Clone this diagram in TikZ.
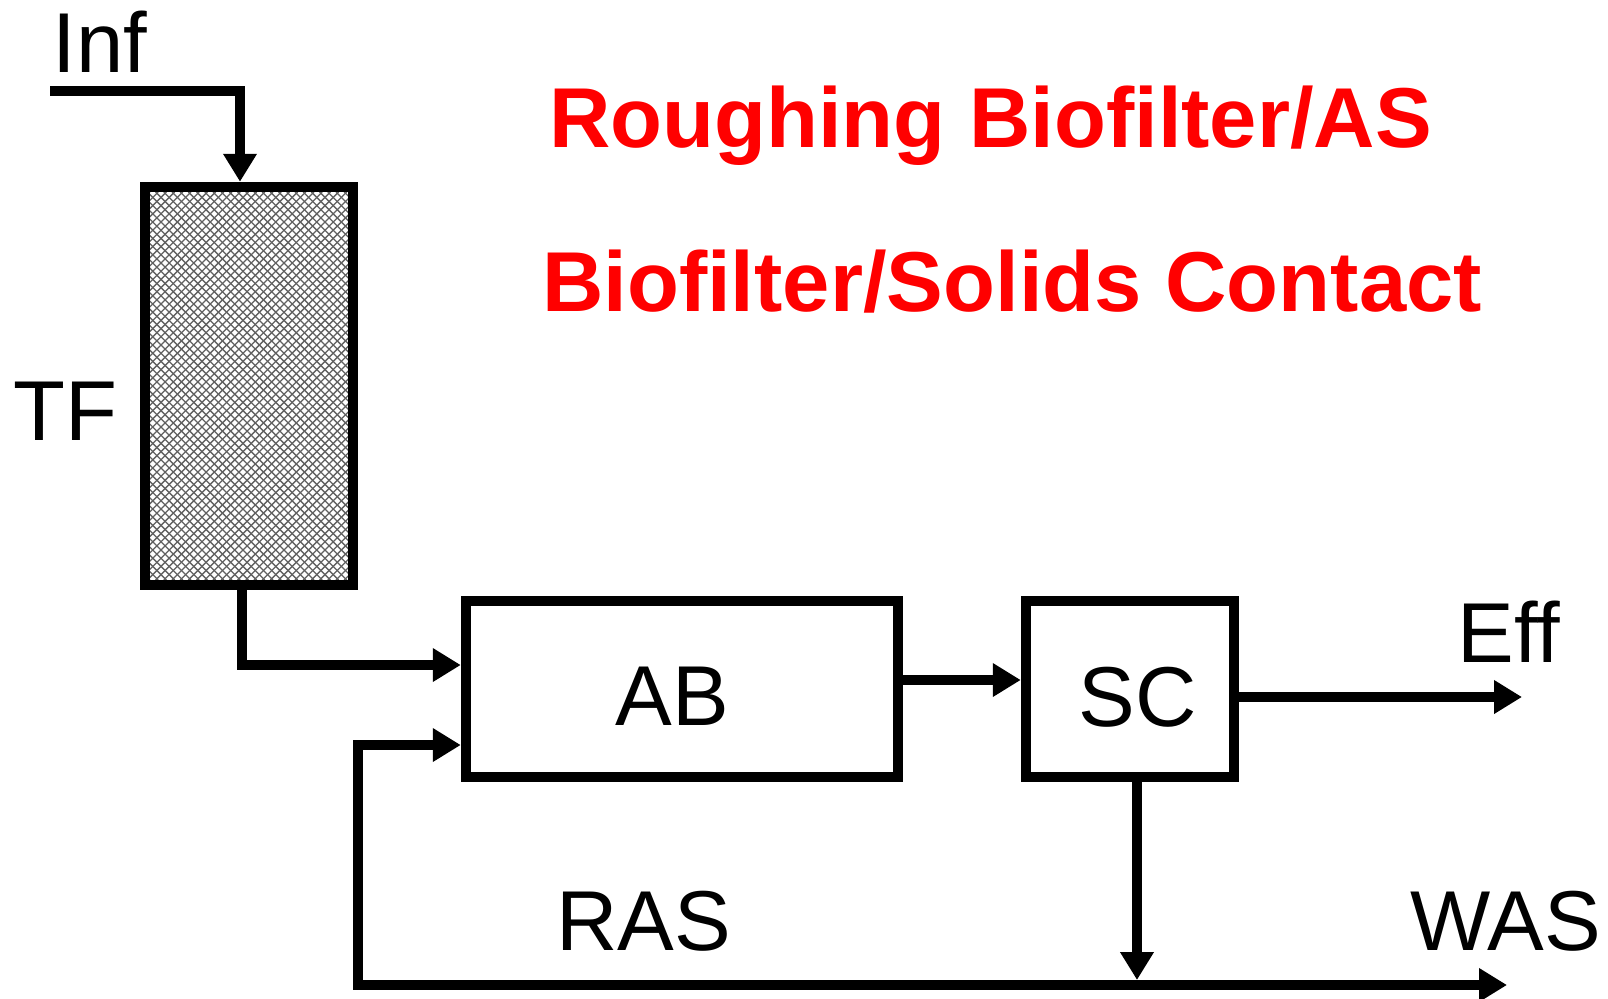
\documentclass[tikz,border=0pt]{standalone}
\usepackage{fontspec}
\setmainfont{Liberation Sans}
\usetikzlibrary{arrows.meta}
\definecolor{titlered}{RGB}{255,0,0}
\begin{document}
\begin{tikzpicture}[x=0.5pt,y=-0.5pt,
  unitbox/.style={draw,line width=5.25pt,rectangle,inner sep=0pt},
  flow/.style={line width=5.25pt,line join=miter,line cap=butt,-{Triangle[length=14pt,width=16pt]}},
  lbl/.style={font=\fontsize{42.5pt}{48pt}\selectfont,anchor=base,inner sep=0pt},
  ttl/.style={font=\fontsize{42.5pt}{48pt}\selectfont\bfseries,text=titlered,anchor=base,inner sep=0pt},
  hatch/.style={line width=0.65pt,draw=black!62}]
\useasboundingbox (0,0) rectangle (1608,998);
% hatch inside the trickling filter
\begin{scope}
  \clip (150,192) rectangle (348,580);
  \foreach \k in {0,...,75}{
    \draw[hatch] ({-238+\k*8.2},192) -- ({150+\k*8.2},580);
    \draw[hatch] ({150+\k*8.2},192) -- ({-238+\k*8.2},580);
  }
\end{scope}
% units
\node[unitbox,minimum width=104pt,minimum height=199pt] (TF) at (249,386) {};
\node[unitbox,minimum width=216pt,minimum height=88pt] (AB) at (682,689) {};
\node[unitbox,minimum width=104pt,minimum height=88pt] (SC) at (1130,689) {};
% labels
\node[lbl] (inf) at (100,72) {Inf};
\node[lbl] (tflbl) at (65,440) {TF};
\node[lbl] (ablbl) at (672.5,725) {AB};
\node[lbl] (sclbl) at (1137.5,726) {SC};
\node[lbl] (eff) at (1508.5,662) {Eff};
\node[lbl] (ras) at (643.5,950) {RAS};
\node[lbl] (was) at (1506,950) {WAS};
\node[ttl] (t1) at (990.5,147) {Roughing Biofilter/AS};
\node[ttl] (t2) at (1012,311) {Biofilter/Solids Contact};
% coordinates
\coordinate (infstart) at (50,91);
\coordinate (inbend) at (240,91);
\coordinate (tfout) at (242,665);
\coordinate (rascorner) at (358,985);
\coordinate (rasup) at (358,745);
\coordinate (wasend) at (1507,985);
\coordinate (effend) at (1522,697);
\coordinate (sctip) at (1137,980);
% connectors
\draw[flow] (infstart) -- (inbend) -- (inbend |- TF.north);
\draw[flow] (tfout |- TF.south) -- (tfout) -- (tfout -| AB.west);
\draw[flow] ([yshift=4.5pt]AB.east) -- ([yshift=4.5pt]SC.west);
\draw[flow] ([yshift=-4pt]SC.east) -- (effend);
\draw[flow] (sctip |- SC.south) -- (sctip);
\draw[line width=5.25pt,line join=miter,{Triangle[length=14pt,width=16pt]}-{Triangle[length=14pt,width=16pt]}] (wasend) -- (rascorner) -- (rasup) -- (rasup -| AB.west);
\end{tikzpicture}
\end{document}
